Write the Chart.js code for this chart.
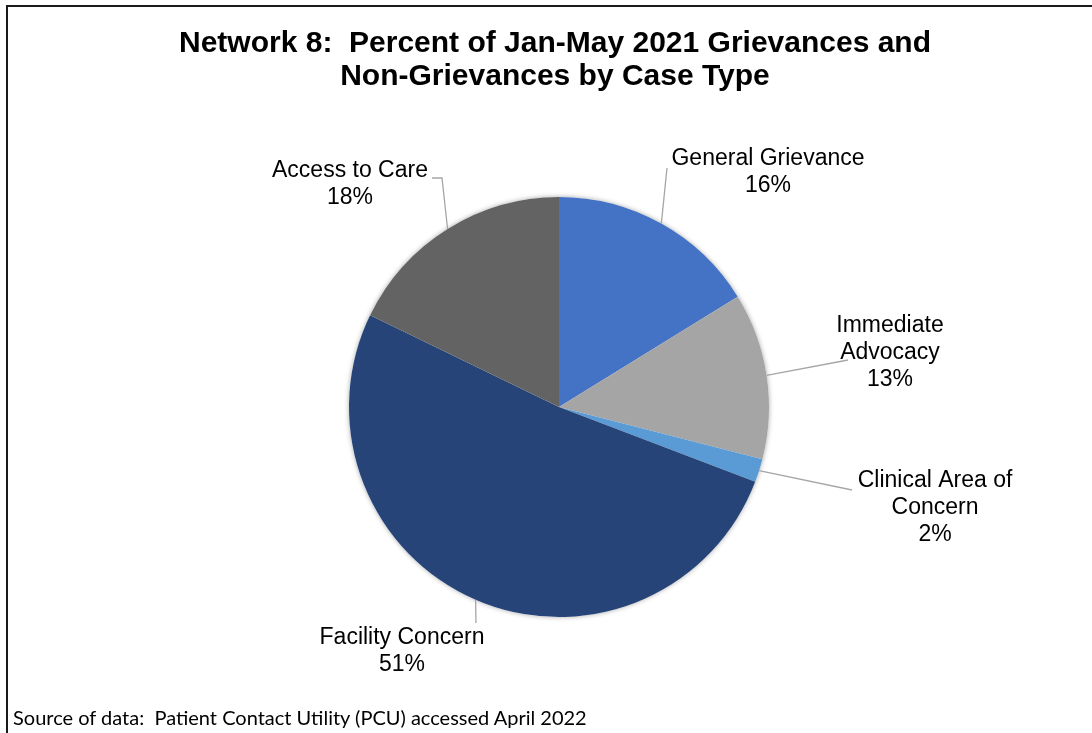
<!DOCTYPE html>
<html>
<head>
<meta charset="utf-8">
<script src="https://cdn.jsdelivr.net/npm/chart.js@4"></script>
<style>
  body { margin: 0; background: #fff; width: 1092px; height: 733px; overflow: hidden; position: relative; }
  #frame { position: absolute; left: 6px; top: 5px; width: 1200px; height: 800px;
           border-top: 2px solid #1a1a1a; border-left: 2px solid #1a1a1a; }
  #grafiek { position: absolute; left: 8px; top: 7px; }
  #bron { position: absolute; left: 13px; top: 704px; font-family: Lato, "Open Sans", sans-serif;
          font-size: 20px; line-height: 26px; color: #000; white-space: nowrap; }
</style>
</head>
<body>
<div id="frame"></div>
<canvas id="grafiek" width="1094" height="726"></canvas>
<div id="bron">Source of data:&nbsp; Patient Contact Utility (PCU) accessed April 2022</div>
<script>
const titel = ["Network 8:  Percent of Jan-May 2021 Grievances and", "Non-Grievances by Case Type"];
const caseTypes = ["General Grievance", "Immediate Advocacy", "Clinical Area of Concern", "Facility Concern", "Access to Care"];
const labelLines = [["General Grievance"], ["Immediate", "Advocacy"], ["Clinical Area of", "Concern"], ["Facility Concern"], ["Access to Care"]];
const percentages = [16.2, 12.8, 1.8, 51.4, 17.8];
const kleuren = ["#4472C4", "#A5A5A5", "#5B9BD5", "#264478", "#636363"];

// where each label sits, relative to the pie centre (leader end points + text block centre)
const labelPlaatsing = [
    { leader: [[108, -239]], tekst: [209, -235] },
    { leader: [[289, -47]], tekst: [331, -54] },
    { leader: [[293, 83]], tekst: [376, 101] },
    { leader: [[-83, 216]], tekst: [-157, 244] },
    { leader: [[-117, -229], [-127, -229]], tekst: [-209, -223] }
];

// title drawn by hand: the built-in one gets squeezed by the side padding
const titelPlugin = {
    id: 'wideTitle',
    afterDraw(chart) {
        const ctx = chart.ctx;
        ctx.save();
        ctx.fillStyle = '#000';
        ctx.font = 'bold 30px "Liberation Sans", Arial, sans-serif';
        ctx.textAlign = 'center';
        ctx.textBaseline = 'middle';
        titel.forEach((r, k) => ctx.fillText(r, chart.width / 2, 37 + k * 33));
        ctx.restore();
    }
};

const schaduwPlugin = {
    id: 'pieShadow',
    beforeDatasetsDraw(chart) {
        const arc = chart.getDatasetMeta(0).data[0];
        if (!arc) return;
        const p = arc.getProps(['x', 'y', 'outerRadius'], true);
        const ctx = chart.ctx;
        ctx.save();
        ctx.shadowColor = 'rgba(0,0,0,0.35)';
        ctx.shadowBlur = 5;
        ctx.fillStyle = '#fff';
        ctx.beginPath();
        ctx.arc(p.x, p.y, p.outerRadius, 0, Math.PI * 2);
        ctx.fill();
        ctx.restore();
    }
};

const labelPlugin = {
    id: 'sliceLabels',
    afterDatasetsDraw(chart) {
        const ctx = chart.ctx;
        const meta = chart.getDatasetMeta(0);
        const totaal = percentages.reduce((a, b) => a + b, 0);
        meta.data.forEach((arc, i) => {
            const p = arc.getProps(['x', 'y', 'startAngle', 'endAngle', 'outerRadius'], true);
            const mid = (p.startAngle + p.endAngle) / 2;
            const sx = p.x + Math.cos(mid) * p.outerRadius;
            const sy = p.y + Math.sin(mid) * p.outerRadius;
            const pl = labelPlaatsing[i];

            ctx.save();
            ctx.strokeStyle = '#A6A6A6';
            ctx.lineWidth = 1.3;
            ctx.beginPath();
            ctx.moveTo(sx, sy);
            pl.leader.forEach(([dx, dy]) => ctx.lineTo(p.x + dx, p.y + dy));
            ctx.stroke();

            const regels = [...labelLines[i], Math.round(percentages[i] / totaal * 100) + '%'];
            const lh = 27;
            const cx = p.x + pl.tekst[0];
            const cy = p.y + pl.tekst[1];
            ctx.fillStyle = '#000';
            ctx.font = '23px "Liberation Sans", Arial, sans-serif';
            ctx.textAlign = 'center';
            ctx.textBaseline = 'middle';
            regels.forEach((r, k) => {
                ctx.fillText(r, cx, cy + (k - (regels.length - 1) / 2) * lh);
            });
            ctx.restore();
        });
    }
};

new Chart(document.getElementById('grafiek').getContext('2d'), {
    type: 'pie',
    data: {
        labels: caseTypes,
        datasets: [{
            data: percentages,
            backgroundColor: kleuren,
            borderWidth: 0,
            hoverOffset: 0
        }]
    },
    options: {
        responsive: false,
        animation: false,
        layout: { padding: { left: 208, right: 200, top: 190, bottom: 116 } },
        plugins: {
            legend: { display: false },
            tooltip: { enabled: false },
            title: { display: false }
        }
    },
    plugins: [titelPlugin, schaduwPlugin, labelPlugin]
});
</script>
</body>
</html>
